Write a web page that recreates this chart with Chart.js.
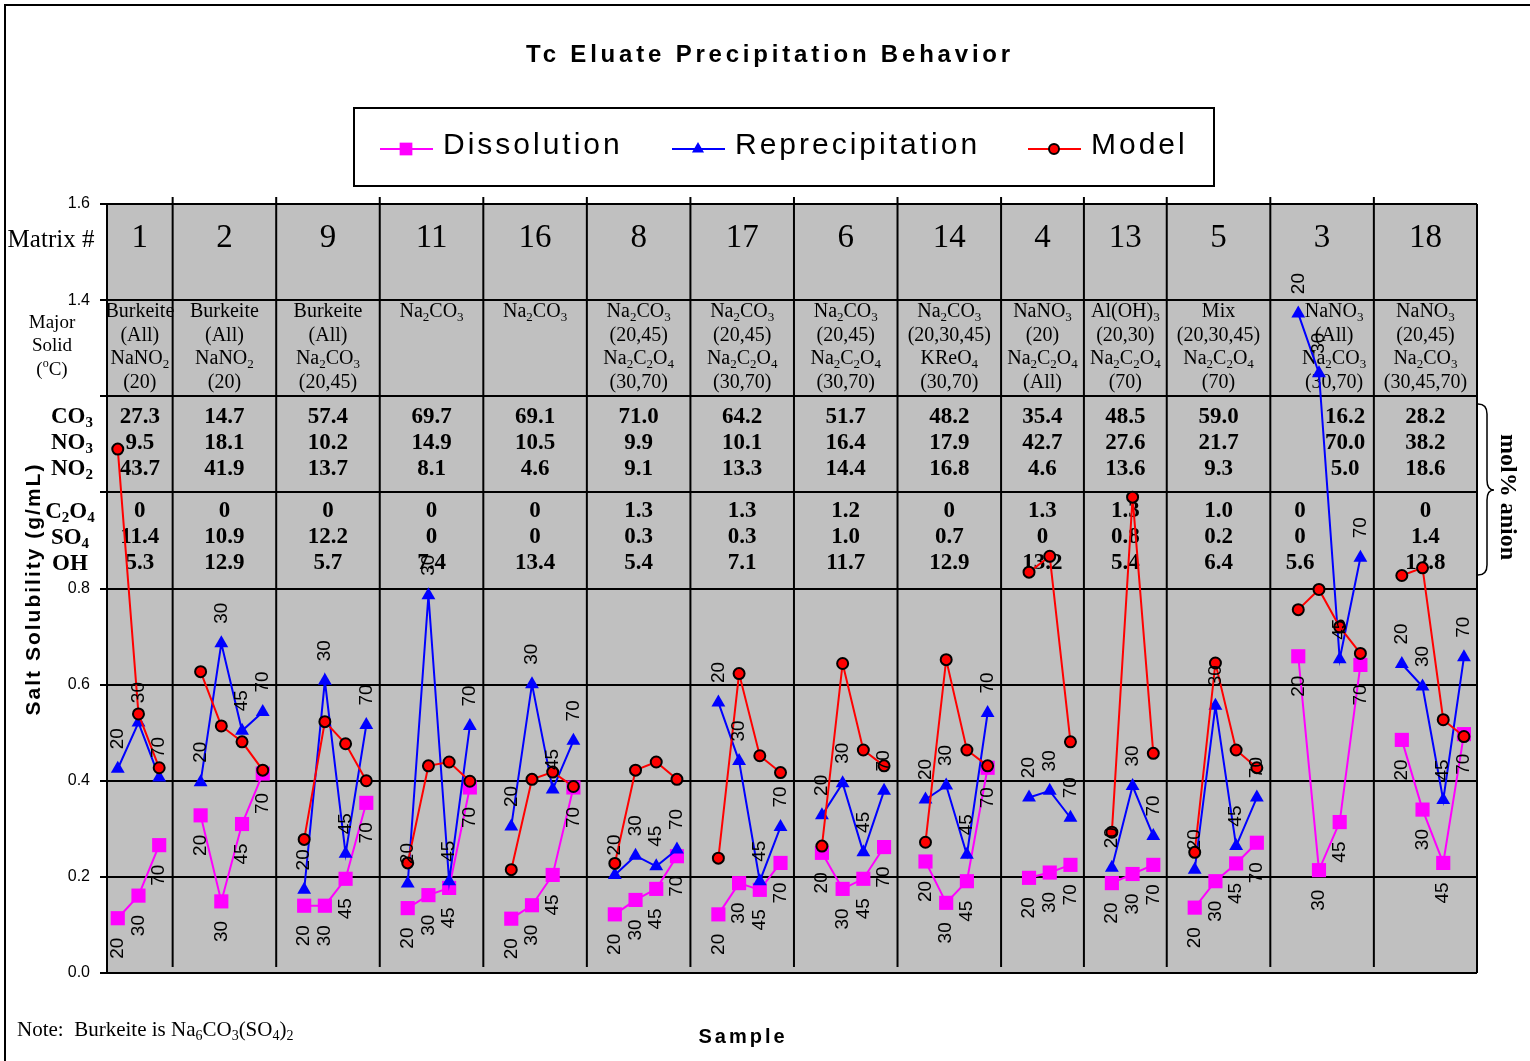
<!DOCTYPE html>
<html>
<head>
<meta charset="utf-8">
<script src="https://cdn.jsdelivr.net/npm/chart.js@4.4.0/dist/chart.umd.min.js"></script>
<style>
  html, body { margin: 0; padding: 0; background: #fff; }
  canvas { display: block; }
</style>
</head>
<body>
<canvas id="chart" width="1530" height="1061"></canvas>
<script>
// Matrix groups, in plot order
const matrices = ['1', '2', '9', '11', '16', '8', '17', '6', '14', '4', '13', '5', '3', '18'];

// temperatures (oC) sampled in each group
const temps = [
  [20, 30, 70], [20, 30, 45, 70], [20, 30, 45, 70], [20, 30, 45, 70], [20, 30, 45, 70],
  [20, 30, 45, 70], [20, 30, 45, 70], [20, 30, 45, 70], [20, 30, 45, 70], [20, 30, 70],
  [20, 30, 70], [20, 30, 45, 70], [20, 30, 45, 70], [20, 30, 45, 70]
];

// salt solubility (g/mL)
const dissolution = [
  [0.114, 0.161, 0.266], [0.328, 0.149, 0.310, 0.415], [0.140, 0.140, 0.196, 0.354],
  [0.135, 0.162, 0.177, 0.386], [0.113, 0.141, 0.204, 0.386], [0.122, 0.152, 0.175, 0.243],
  [0.122, 0.187, 0.173, 0.229], [0.250, 0.175, 0.196, 0.262], [0.232, 0.146, 0.191, 0.427],
  [0.198, 0.209, 0.225], [0.187, 0.206, 0.225], [0.136, 0.191, 0.228, 0.271],
  [0.659, 0.214, 0.314, 0.641], [0.485, 0.340, 0.229, 0.497]
];
const reprecipitation = [
  [0.425, 0.521, 0.407], [0.397, 0.686, 0.504, 0.543], [0.173, 0.608, 0.248, 0.516],
  [0.186, 0.786, 0.191, 0.514], [0.305, 0.601, 0.382, 0.483], [0.204, 0.244, 0.222, 0.257],
  [0.563, 0.441, 0.191, 0.304], [0.328, 0.395, 0.251, 0.379], [0.361, 0.390, 0.246, 0.541],
  [0.365, 0.379, 0.323], [0.219, 0.389, 0.285], [0.215, 0.556, 0.264, 0.365],
  [1.372, 1.248, 0.653, 0.864], [0.643, 0.596, 0.360, 0.657]
];
const model = [
  [1.090, 0.539, 0.427], [0.627, 0.514, 0.481, 0.422], [0.278, 0.523, 0.477, 0.400],
  [0.229, 0.431, 0.439, 0.399], [0.215, 0.403, 0.418, 0.388], [0.228, 0.422, 0.439, 0.403],
  [0.239, 0.623, 0.452, 0.417], [0.264, 0.644, 0.464, 0.431], [0.272, 0.652, 0.464, 0.431],
  [0.834, 0.867, 0.481], [0.293, 0.990, 0.457], [0.251, 0.645, 0.464, 0.427],
  [0.756, 0.798, 0.720, 0.665], [0.827, 0.843, 0.527, 0.492]
];

// table text: {x} = subscript, ^{x} = superscript
const majorSolid = [
  ['Burkeite', '(All)', 'NaNO{2}', '(20)'],
  ['Burkeite', '(All)', 'NaNO{2}', '(20)'],
  ['Burkeite', '(All)', 'Na{2}CO{3}', '(20,45)'],
  ['Na{2}CO{3}'],
  ['Na{2}CO{3}'],
  ['Na{2}CO{3}', '(20,45)', 'Na{2}C{2}O{4}', '(30,70)'],
  ['Na{2}CO{3}', '(20,45)', 'Na{2}C{2}O{4}', '(30,70)'],
  ['Na{2}CO{3}', '(20,45)', 'Na{2}C{2}O{4}', '(30,70)'],
  ['Na{2}CO{3}', '(20,30,45)', 'KReO{4}', '(30,70)'],
  ['NaNO{3}', '(20)', 'Na{2}C{2}O{4}', '(All)'],
  ['Al(OH){3}', '(20,30)', 'Na{2}C{2}O{4}', '(70)'],
  ['Mix', '(20,30,45)', 'Na{2}C{2}O{4}', '(70)'],
  ['NaNO{3}', '(All)', 'Na{2}CO{3}', '(30,70)'],
  ['NaNO{3}', '(20,45)', 'Na{2}CO{3}', '(30,45,70)']
];

// mol% anion
const co3  = [27.3, 14.7, 57.4, 69.7, 69.1, 71.0, 64.2, 51.7, 48.2, 35.4, 48.5, 59.0, 16.2, 28.2];
const no3  = [9.5, 18.1, 10.2, 14.9, 10.5, 9.9, 10.1, 16.4, 17.9, 42.7, 27.6, 21.7, 70.0, 38.2];
const no2  = [43.7, 41.9, 13.7, 8.1, 4.6, 9.1, 13.3, 14.4, 16.8, 4.6, 13.6, 9.3, 5.0, 18.6];
const c2o4 = [0, 0, 0, 0, 0, 1.3, 1.3, 1.2, 0, 1.3, 1.3, 1.0, 0, 0];
const so4  = [11.4, 10.9, 12.2, 0, 0, 0.3, 0.3, 1.0, 0.7, 0, 0.8, 0.2, 0, 1.4];
const oh   = [5.3, 12.9, 5.7, 7.4, 13.4, 5.4, 7.1, 11.7, 12.9, 13.2, 5.4, 6.4, 5.6, 12.8];

const yTicks = [0, 0.2, 0.4, 0.6, 0.8, 1.4, 1.6]; // labelled ticks

const SANS = '"Liberation Sans", Arial, sans-serif';
const SERIF = '"Liberation Serif", "Times New Roman", serif';

// column text nudges (matrix 3 has its text shifted)
const colShift = { '3': { solid: 12, top: 23, bottom: -22 } };

// build point lists, one empty slot between groups breaks the lines
let dissPts = [], reprPts = [], modelPts = [];
let groupEnd = [];
let idx = 0;
matrices.forEach((m, g) => {
  if (g > 0) {
    dissPts.push({ x: idx, y: null });
    reprPts.push({ x: idx, y: null });
    modelPts.push({ x: idx, y: null });
    idx++;
  }
  temps[g].forEach((t, i) => {
    dissPts.push({ x: idx, y: dissolution[g][i], t: t });
    reprPts.push({ x: idx, y: reprecipitation[g][i], t: t });
    modelPts.push({ x: idx, y: model[g][i], t: t });
    idx++;
  });
  groupEnd.push(idx - 1);
});

function fmt(v) { return v === 0 ? '0' : v.toFixed(1); }

function parseRich(str) {
  const segs = [];
  let i = 0, buf = '';
  while (i < str.length) {
    const sup = str[i] === '^' && str[i + 1] === '{';
    if (str[i] === '{' || sup) {
      if (buf) segs.push({ t: buf, k: 0 });
      buf = '';
      const j = str.indexOf('}', i);
      segs.push({ t: str.slice(i + (sup ? 2 : 1), j), k: sup ? 1 : -1 });
      i = j + 1;
    } else {
      buf += str[i];
      i++;
    }
  }
  if (buf) segs.push({ t: buf, k: 0 });
  return segs;
}

function drawRich(ctx, str, x, y, size, opts) {
  opts = opts || {};
  const family = opts.family || SERIF;
  const align = opts.align || 'center';
  const segs = parseRich(str);
  const fontFor = k => (opts.bold ? 'bold ' : '') + (k ? Math.round(size * 0.65) : size) + 'px ' + family;
  let w = 0;
  segs.forEach(s => { ctx.font = fontFor(s.k); s.w = ctx.measureText(s.t).width; w += s.w; });
  let cx = align === 'center' ? x - w / 2 : align === 'right' ? x - w : x;
  ctx.textAlign = 'left';
  ctx.textBaseline = 'middle';
  segs.forEach(s => {
    ctx.font = fontFor(s.k);
    const dy = s.k === -1 ? size * 0.28 : s.k === 1 ? -size * 0.3 : 0;
    ctx.fillText(s.t, cx, y + dy);
    cx += s.w;
  });
}

function line(ctx, x1, y1, x2, y2) {
  ctx.beginPath();
  ctx.moveTo(x1, y1);
  ctx.lineTo(x2, y2);
  ctx.stroke();
}

const tablePlugin = {
  id: 'table',
  beforeDraw(chart) {
    const ctx = chart.ctx, a = chart.chartArea;
    ctx.save();
    ctx.fillStyle = '#fff';
    ctx.fillRect(0, 0, chart.width, chart.height);
    ctx.strokeStyle = '#000';
    ctx.lineWidth = 2;
    ctx.strokeRect(5, 5, chart.width + 10, chart.height + 10);
    ctx.fillStyle = '#C0C0C0';
    ctx.fillRect(a.left, a.top, a.right - a.left, a.bottom - a.top);

    // title
    ctx.fillStyle = '#000';
    ctx.letterSpacing = '3.8px';
    ctx.font = 'bold 24px ' + SANS;
    ctx.textAlign = 'center';
    ctx.textBaseline = 'middle';
    ctx.fillText('Tc Eluate Precipitation Behavior', 770, 55);

    // legend
    ctx.letterSpacing = '0px';
    ctx.fillStyle = '#fff';
    ctx.fillRect(354, 108, 860, 78);
    ctx.strokeRect(354, 108, 860, 78);
    const items = [
      { text: 'Dissolution', x: 380, color: '#FF00FF', style: 'rect', r: 9, border: null },
      { text: 'Reprecipitation', x: 672, color: '#0000FF', style: 'triangle', r: 7, border: null },
      { text: 'Model', x: 1028, color: '#FF0000', style: 'circle', r: 5, border: '#000' }
    ];
    items.forEach(it => {
      ctx.strokeStyle = it.color;
      ctx.lineWidth = 2;
      line(ctx, it.x, 149, it.x + 53, 149);
      ctx.fillStyle = it.color;
      ctx.strokeStyle = it.border || it.color;
      Chart.helpers.drawPoint(ctx, { pointStyle: it.style, radius: it.r, rotation: 0, borderWidth: it.border ? 2 : 0 }, it.x + 26, 149);
      ctx.fillStyle = '#000';
      ctx.letterSpacing = '3px';
      ctx.font = '30px ' + SANS;
      ctx.textAlign = 'left';
      ctx.textBaseline = 'middle';
      ctx.fillText(it.text, it.x + 63, 146);
      ctx.letterSpacing = '0px';
    });

    // axis titles
    ctx.fillStyle = '#000';
    ctx.save();
    ctx.translate(34, 589);
    ctx.rotate(-Math.PI / 2);
    ctx.letterSpacing = '2px';
    ctx.font = 'bold 21px ' + SANS;
    ctx.textAlign = 'center';
    ctx.textBaseline = 'middle';
    ctx.fillText('Salt Solubility (g/mL)', 0, 0);
    ctx.restore();

    ctx.letterSpacing = '3px';
    ctx.font = 'bold 20px ' + SANS;
    ctx.textAlign = 'center';
    ctx.fillText('Sample', 743, 1037);
    ctx.letterSpacing = '0px';

    drawRich(ctx, 'Note:  Burkeite is Na{6}CO{3}(SO{4}){2}', 17, 1030, 21, { align: 'left' });

    // row headings
    drawRich(ctx, 'Matrix #', 51, 240, 25);
    drawRich(ctx, 'Major', 52, 323, 19);
    drawRich(ctx, 'Solid', 52, 346, 19);
    drawRich(ctx, '(^{o}C)', 52, 370, 19);
    ['CO{3}', 'NO{3}', 'NO{2}'].forEach((s, k) => drawRich(ctx, s, 72, 417 + k * 26, 23, { bold: true }));
    ['C{2}O{4}', 'SO{4}', 'OH'].forEach((s, k) => drawRich(ctx, s, 70, 512 + k * 26, 23, { bold: true }));

    // brace + mol% anion
    ctx.strokeStyle = '#000';
    ctx.lineWidth = 1.5;
    ctx.beginPath();
    ctx.moveTo(1478, 404);
    ctx.quadraticCurveTo(1487, 404, 1487, 414);
    ctx.lineTo(1487, 480);
    ctx.quadraticCurveTo(1487, 490, 1494, 490);
    ctx.quadraticCurveTo(1487, 490, 1487, 500);
    ctx.lineTo(1487, 565);
    ctx.quadraticCurveTo(1487, 575, 1478, 575);
    ctx.stroke();
    ctx.save();
    ctx.translate(1507, 497);
    ctx.rotate(Math.PI / 2);
    ctx.fillStyle = '#000';
    ctx.font = 'bold 24px ' + SERIF;
    ctx.textAlign = 'center';
    ctx.textBaseline = 'middle';
    ctx.fillText('mol% anion', 0, 0);
    ctx.restore();
    ctx.restore();
  },
  beforeDatasetsDraw(chart) {
    const ctx = chart.ctx, a = chart.chartArea, xs = chart.scales.x;
    ctx.save();
    ctx.strokeStyle = '#000';
    ctx.lineWidth = 2;
    const seps = groupEnd.slice(0, -1).map(e => xs.getPixelForValue(e + 0.65));
    seps.forEach(px => line(ctx, px, a.top - 7, px, a.bottom - 6));
    line(ctx, a.right, a.top, a.right, a.bottom);
    ctx.fillStyle = '#000';
    matrices.forEach((m, g) => {
      const l = g ? seps[g - 1] : a.left;
      const r = g < seps.length ? seps[g] : a.right;
      const cx = (l + r) / 2;
      const sh = colShift[m] || {};
      drawRich(ctx, m, cx, 238, 33);
      majorSolid[g].forEach((s, k) => drawRich(ctx, s, cx + (sh.solid || 0), 312 + k * 23.5, 20));
      [co3, no3, no2].forEach((arr, k) => drawRich(ctx, fmt(arr[g]), cx + (sh.top || 0), 417 + k * 26, 23, { bold: true }));
      [c2o4, so4, oh].forEach((arr, k) => drawRich(ctx, fmt(arr[g]), cx + (sh.bottom || 0), 511 + k * 26, 23, { bold: true }));
    });
    ctx.restore();
  },
  afterDatasetsDraw(chart) {
    const ctx = chart.ctx;
    ctx.save();
    ctx.fillStyle = '#000';
    ctx.font = '19px ' + SANS;
    ctx.textAlign = 'center';
    ctx.textBaseline = 'middle';
    // dissolution labels below points, reprecipitation labels above
    [[0, 30], [1, -30]].forEach(([di, off]) => {
      const meta = chart.getDatasetMeta(di);
      meta.data.forEach((pt, i) => {
        const raw = chart.data.datasets[di].data[i];
        if (raw.y == null) return;
        ctx.save();
        ctx.translate(pt.x, pt.y + off);
        ctx.rotate(-Math.PI / 2);
        ctx.fillText(String(raw.t), 0, 0);
        ctx.restore();
      });
    });
    ctx.restore();
  }
};

const ctx = document.getElementById('chart').getContext('2d');
const chart = new Chart(ctx, {
  type: 'line',
  data: {
    datasets: [
      {
        label: 'Dissolution', data: dissPts, order: 3,
        borderColor: '#FF00FF', backgroundColor: '#FF00FF', borderWidth: 2,
        pointStyle: 'rect', pointRadius: 10, pointBorderWidth: 0
      },
      {
        label: 'Reprecipitation', data: reprPts, order: 2,
        borderColor: '#0000FF', backgroundColor: '#0000FF', borderWidth: 2,
        pointStyle: 'triangle', pointRadius: 8, pointBorderWidth: 0
      },
      {
        label: 'Model', data: modelPts, order: 1,
        borderColor: '#FF0000', backgroundColor: '#FF0000', borderWidth: 2,
        pointStyle: 'circle', pointRadius: 5.5, pointBackgroundColor: '#FF0000',
        pointBorderColor: '#000', pointBorderWidth: 2
      }
    ]
  },
  options: {
    responsive: false,
    animation: false,
    events: [],
    spanGaps: false,
    layout: { padding: { left: 47, right: 53, top: 204, bottom: 88 } },
    elements: { line: { tension: 0 } },
    plugins: { legend: { display: false }, tooltip: { enabled: false } },
    scales: {
      x: { type: 'linear', min: -0.52, max: 65.63, display: false },
      y: {
        min: 0, max: 1.6,
        afterFit: s => { s.width = 60; },
        ticks: {
          stepSize: 0.2, padding: 10, color: '#000',
          font: { family: SANS, size: 16 },
          callback: v => yTicks.some(t => Math.abs(t - v) < 1e-6) ? v.toFixed(1) : ''
        },
        grid: { color: '#000', lineWidth: 2, tickLength: 7 },
        border: { color: '#000', width: 2 }
      }
    }
  },
  plugins: [tablePlugin]
});
</script>
</body>
</html>
